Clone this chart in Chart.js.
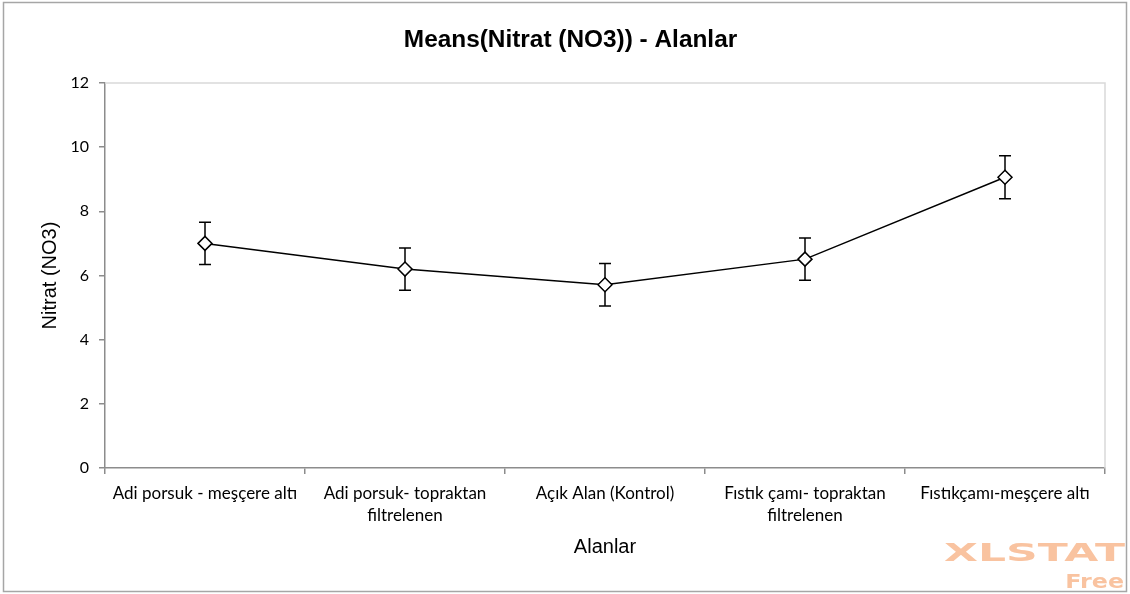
<!DOCTYPE html>
<html><head><meta charset="utf-8">
<script src="https://cdn.jsdelivr.net/npm/chart.js@4"></script>
<style>html,body{margin:0;padding:0;background:#fff}canvas{display:block}</style>
</head><body>
<canvas id="c" width="1130" height="594"></canvas>
<script>
const categories = [
  ["Adi porsuk - meşçere altı"],
  ["Adi porsuk- topraktan", "filtrelenen"],
  ["Açık Alan (Kontrol)"],
  ["Fıstık çamı- topraktan", "filtrelenen"],
  ["Fıstıkçamı-meşçere altı"]
];
const means = [7.00, 6.20, 5.71, 6.51, 9.06];
const errors = [0.66, 0.66, 0.66, 0.66, 0.67];
const yTicks = [0, 2, 4, 6, 8, 10, 12];
const titleText = "Means(Nitrat (NO3)) - Alanlar";
const xTitle = "Alanlar";
const yTitle = "Nitrat (NO3)";

const frame = {
  id: 'frame',
  beforeDraw(chart) {
    const ctx = chart.ctx;
    ctx.save();
    ctx.fillStyle = '#fff';
    ctx.fillRect(0, 0, chart.width, chart.height);
    ctx.strokeStyle = '#a6a6a6';
    ctx.lineWidth = 1.5;
    ctx.strokeRect(3.5, 2.5, 1123, 589);
    ctx.restore();
  },
  beforeDatasetsDraw(chart) {
    const {ctx, chartArea: a} = chart;
    ctx.save();
    ctx.strokeStyle = '#d9d9d9';
    ctx.lineWidth = 1.5;
    ctx.beginPath();
    ctx.moveTo(a.left, a.top); ctx.lineTo(a.right, a.top); ctx.lineTo(a.right, a.bottom);
    ctx.stroke();
    ctx.restore();
  },
  afterDraw(chart) {
    const ctx = chart.ctx;
    ctx.save();
    ctx.fillStyle = '#f9c3a0';
    ctx.textBaseline = 'alphabetic';
    ctx.textAlign = 'right';
    ctx.font = 'bold 25px "DejaVu Sans"';
    ctx.save();
    ctx.translate(1125, 561);
    ctx.scale(1.76, 1);
    ctx.fillText('XLSTAT', 0, 0);
    ctx.restore();
    ctx.font = 'bold 19px "DejaVu Sans"';
    ctx.save();
    ctx.translate(1124, 588);
    ctx.scale(1.25, 1);
    ctx.fillText('Free', 0, 0);
    ctx.restore();
    ctx.restore();
  }
};

const errorBars = {
  id: 'errorBars',
  beforeDatasetsDraw(chart) {
    const {ctx, scales: {y}} = chart;
    const meta = chart.getDatasetMeta(0);
    ctx.save();
    ctx.strokeStyle = '#000';
    ctx.lineWidth = 1.5;
    meta.data.forEach((pt, i) => {
      const px = pt.x;
      const top = y.getPixelForValue(means[i] + errors[i]);
      const bot = y.getPixelForValue(means[i] - errors[i]);
      ctx.beginPath();
      ctx.moveTo(px, top); ctx.lineTo(px, bot);
      ctx.moveTo(px - 6, top); ctx.lineTo(px + 6, top);
      ctx.moveTo(px - 6, bot); ctx.lineTo(px + 6, bot);
      ctx.stroke();
    });
    ctx.restore();
  }
};

new Chart(document.getElementById('c'), {
  type: 'line',
  data: {
    labels: categories,
    datasets: [{
      data: means,
      borderColor: '#000',
      borderWidth: 1.5,
      tension: 0,
      fill: false,
      pointStyle: 'rectRot',
      pointRadius: 7,
      pointHoverRadius: 7,
      pointBackgroundColor: '#fff',
      pointBorderColor: '#000',
      pointBorderWidth: 1.5
    }]
  },
  options: {
    responsive: false,
    animation: false,
    events: [],
    layout: {padding: {left: 36, right: 25, top: 0, bottom: 0}},
    plugins: {
      legend: {display: false},
      tooltip: {enabled: false},
      title: {
        display: true,
        text: titleText,
        color: '#000',
        font: {family: '"Liberation Sans", Arial, sans-serif', size: 24.4, weight: 'bold', lineHeight: 1.2},
        padding: {top: 25.8, bottom: 27.9}
      }
    },
    scales: {
      x: {
        type: 'category',
        offset: true,
        afterFit(s) { s.height = 126; },
        border: {display: true, color: '#8c8c8c', width: 1.5},
        grid: {display: true, drawOnChartArea: false, drawTicks: true, tickLength: 6, color: '#8c8c8c', lineWidth: 1.5, offset: true},
        ticks: {
          autoSkip: false, maxRotation: 0, minRotation: 0, padding: 8, color: '#000',
          font: {family: 'Lato, sans-serif', size: 17, lineHeight: 1.32}
        },
        title: {
          display: true, text: xTitle, color: '#000',
          font: {family: '"Liberation Sans", Arial, sans-serif', size: 20, lineHeight: 1.2},
          padding: {top: 0, bottom: 35}
        }
      },
      y: {
        min: yTicks[0],
        max: yTicks[yTicks.length - 1],
        afterFit(s) { s.width = 69; },
        afterBuildTicks(s) { s.ticks = yTicks.map(v => ({value: v})); },
        border: {display: true, color: '#8c8c8c', width: 1.5},
        grid: {display: true, drawOnChartArea: false, drawTicks: true, tickLength: 6, color: '#8c8c8c', lineWidth: 1.5},
        ticks: {
          padding: 10, color: '#000',
          font: {family: 'Lato, sans-serif', size: 16, lineHeight: 1.2}
        },
        title: {
          display: true, text: yTitle, color: '#000',
          font: {family: '"Liberation Sans", Arial, sans-serif', size: 20, lineHeight: 1.2},
          padding: {top: 2, bottom: 0}
        }
      }
    }
  },
  plugins: [frame, errorBars]
});
</script>
</body></html>
